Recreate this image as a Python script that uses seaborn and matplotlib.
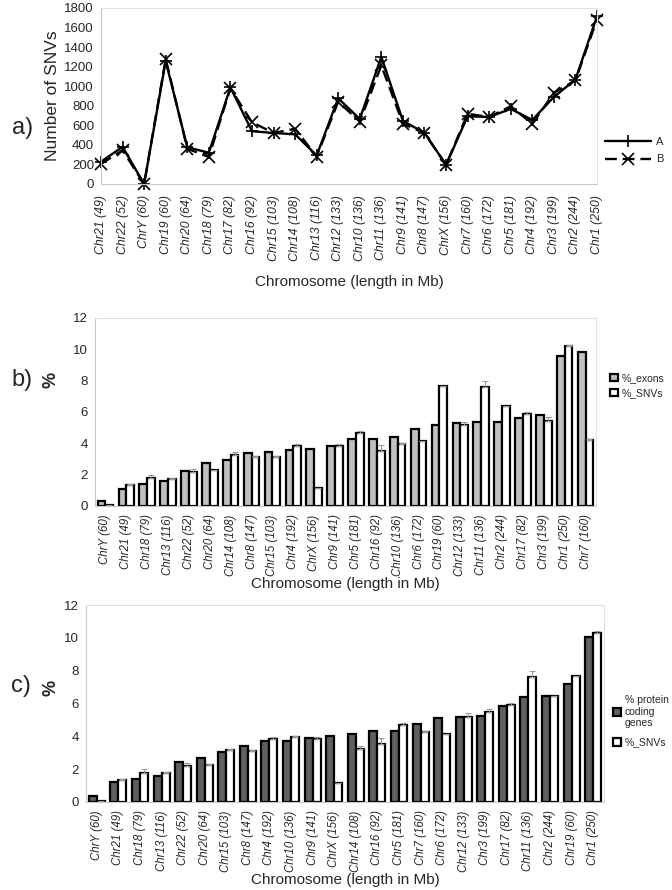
import matplotlib
matplotlib.use("Agg")
import matplotlib.pyplot as plt
import numpy as np
import pandas as pd
import seaborn as sns
from matplotlib.ticker import FixedLocator

# ---- panel a: SNV counts per chromosome (ordered by length) ----
chrom_a = ["Chr21 (49)", "Chr22 (52)", "ChrY (60)", "Chr19 (60)", "Chr20 (64)", "Chr18 (79)",
           "Chr17 (82)", "Chr16 (92)", "Chr15 (103)", "Chr14 (108)", "Chr13 (116)", "Chr12 (133)",
           "Chr10 (136)", "Chr11 (136)", "Chr9 (141)", "Chr8 (147)", "ChrX (156)", "Chr7 (160)",
           "Chr6 (172)", "Chr5 (181)", "Chr4 (192)", "Chr3 (199)", "Chr2 (244)", "Chr1 (250)"]
snv_a = [228, 380, 0, 1258, 376, 320, 988, 540, 522, 508, 292, 876,
         665, 1300, 645, 523, 196, 692, 686, 768, 655, 890, 1068, 1716]
snv_b = [205, 345, 0, 1280, 362, 276, 978, 632, 522, 565, 280, 842,
         638, 1212, 616, 520, 196, 718, 686, 795, 615, 932, 1060, 1682]

# ---- panel b: % exons vs % SNVs ----
chrom_b = ["ChrY (60)", "Chr21 (49)", "Chr18 (79)", "Chr13 (116)", "Chr22 (52)", "Chr20 (64)",
           "Chr14 (108)", "Chr8 (147)", "Chr15 (103)", "Chr4 (192)", "ChrX (156)", "Chr9 (141)",
           "Chr5 (181)", "Chr16 (92)", "Chr10 (136)", "Chr6 (172)", "Chr19 (60)", "Chr12 (133)",
           "Chr11 (136)", "Chr2 (244)", "Chr17 (82)", "Chr3 (199)", "Chr1 (250)", "Chr7 (160)"]
exons_b = [0.29, 1.08, 1.42, 1.62, 2.22, 2.77, 2.93, 3.36, 3.47, 3.56, 3.67, 3.83,
           4.25, 4.29, 4.40, 4.89, 5.20, 5.32, 5.33, 5.35, 5.63, 5.80, 9.55, 9.85]
snvs_b = [0.04, 1.35, 1.77, 1.73, 2.18, 2.27, 3.23, 3.14, 3.14, 3.82, 1.14, 3.83,
          4.67, 3.52, 3.93, 4.13, 7.65, 5.15, 7.58, 6.41, 5.88, 5.44, 10.23, 4.24]
snvs_b_err = [0.0, 0.05, 0.19, 0.07, 0.18, 0.04, 0.20, 0.04, 0.04, 0.16, 0.0, 0.15,
              0.13, 0.37, 0.09, 0.0, 0.0, 0.18, 0.38, 0.0, 0.13, 0.22, 0.07, 0.03]

# ---- panel c: % protein coding genes vs % SNVs ----
chrom_c = ["ChrY (60)", "Chr21 (49)", "Chr18 (79)", "Chr13 (116)", "Chr22 (52)", "Chr20 (64)",
           "Chr15 (103)", "Chr8 (147)", "Chr4 (192)", "Chr10 (136)", "Chr9 (141)", "ChrX (156)",
           "Chr14 (108)", "Chr16 (92)", "Chr5 (181)", "Chr7 (160)", "Chr6 (172)", "Chr12 (133)",
           "Chr3 (199)", "Chr17 (82)", "Chr11 (136)", "Chr2 (244)", "Chr19 (60)", "Chr1 (250)"]
genes_c = [0.38, 1.20, 1.42, 1.58, 2.42, 2.70, 3.05, 3.41, 3.71, 3.71, 3.90, 4.02,
           4.12, 4.30, 4.30, 4.75, 5.12, 5.16, 5.22, 5.83, 6.39, 6.44, 7.17, 10.03]
snvs_c = [0.04, 1.34, 1.78, 1.74, 2.20, 2.28, 3.15, 3.12, 3.82, 3.94, 3.82, 1.18,
          3.23, 3.53, 4.69, 4.24, 4.14, 5.18, 5.48, 5.89, 7.59, 6.44, 7.67, 10.27]
snvs_c_err = [0.0, 0.05, 0.20, 0.10, 0.20, 0.05, 0.05, 0.05, 0.16, 0.08, 0.16, 0.0,
              0.20, 0.39, 0.14, 0.10, 0.0, 0.22, 0.20, 0.16, 0.41, 0.0, 0.0, 0.12]

sns.set_style("white")
plt.rcParams["font.family"] = ["Liberation Sans", "DejaVu Sans"]

W, H = 672, 890
fig = plt.figure(figsize=(W / 100, H / 100), dpi=100)


def px_axes(left, right, top, bottom):
    return fig.add_axes([left / W, 1 - bottom / H, (right - left) / W, (bottom - top) / H])


def style_frame(ax, xsize):
    for side in ["top", "right"]:
        ax.spines[side].set_color("#e0e0e0")
        ax.spines[side].set_linewidth(0.8)
    for side in ["left", "bottom"]:
        ax.spines[side].set_color("#c8c8c8")
        ax.spines[side].set_linewidth(0.8)
    ax.tick_params(axis="y", length=3, color="#c8c8c8", labelsize=9.5, pad=2)
    for lab in ax.get_xticklabels():
        lab.set_rotation(90)
        lab.set_style("italic")
        lab.set_fontsize(xsize)


# ---------------- panel a ----------------
ax_a = px_axes(101, 597, 8, 184)
df_a = pd.DataFrame({
    "chrom": chrom_a * 2,
    "pos": list(range(len(chrom_a))) * 2,
    "snvs": snv_a + snv_b,
    "sample": ["A"] * len(chrom_a) + ["B"] * len(chrom_a),
})
sns.lineplot(data=df_a, x="pos", y="snvs", hue="sample", style="sample",
             palette={"A": "black", "B": "black"},
             dashes={"A": "", "B": (5, 2.5)}, markers={"A": "+", "B": "x"},
             markersize=9, linewidth=1.7, ax=ax_a, clip_on=False)
for ln in ax_a.lines:
    ln.set_markeredgecolor("black")
    ln.set_markeredgewidth(1.2)
ax_a.set_xlim(0, len(chrom_a) - 1)
ax_a.set_ylim(0, 1800)
ax_a.set_yticks(range(0, 1801, 200))
ax_a.set_xticks(range(len(chrom_a)))
ax_a.set_xticklabels(chrom_a)
ax_a.tick_params(axis="x", length=4, color="#c8c8c8", pad=4)
ax_a.set_xlabel("Chromosome (length in Mb)", fontsize=11, labelpad=10)
ax_a.set_ylabel("Number of SNVs", fontsize=12.5, labelpad=3)
style_frame(ax_a, 8.8)
h, l = ax_a.get_legend_handles_labels()
for hd in h:
    hd.set_markeredgecolor("black")
ax_a.legend(h, l, loc="center left", bbox_to_anchor=(1.0, 0.19), frameon=False,
            fontsize=8, handlelength=4.2, handletextpad=0.4, labelspacing=0.7,
            borderaxespad=0.3)
fig.text(12 / W, 1 - 128 / H, "a)", fontsize=17, ha="left", va="center")


# ---------------- bar panels ----------------
def bar_panel(ax, chroms, first, second, err, first_name, first_color):
    df = pd.DataFrame({
        "chrom": chroms * 2,
        "value": first + second,
        "series": [first_name] * len(chroms) + ["%_SNVs"] * len(chroms),
    })
    sns.barplot(data=df, x="chrom", y="value", hue="series", order=chroms,
                hue_order=[first_name, "%_SNVs"],
                palette={first_name: first_color, "%_SNVs": "white"},
                edgecolor="black", linewidth=1.6, width=0.74, errorbar=None, ax=ax)
    bars = ax.containers[1]
    xs = [b.get_x() + b.get_width() / 2 for b in bars]
    hs = [b.get_height() for b in bars]
    ax.errorbar(xs, hs, yerr=[np.zeros(len(err)), err], fmt="none", ecolor="#999999",
                elinewidth=0.8, capsize=2.5, capthick=0.8, zorder=1)
    ax.set_xlim(-0.5, len(chroms) - 0.5)
    ax.set_ylim(0, 12)
    ax.set_yticks(range(0, 13, 2))
    ax.xaxis.set_minor_locator(FixedLocator(np.arange(-0.5, len(chroms), 1.0)))
    ax.tick_params(axis="x", which="major", length=0, pad=6)
    ax.tick_params(axis="x", which="minor", length=4, color="#c8c8c8")
    ax.set_xlabel("Chromosome (length in Mb)", fontsize=11, labelpad=1)
    ax.set_ylabel("%", fontsize=13, fontweight="bold")
    style_frame(ax, 8.3)


ax_b = px_axes(95, 596, 318, 506)
bar_panel(ax_b, chrom_b, exons_b, snvs_b, snvs_b_err, "%_exons", "#c0c0c0")
ax_b.yaxis.set_label_coords((59 - 95) / 501, (506 - 380) / 188)
h, l = ax_b.get_legend_handles_labels()
ax_b.legend(h, l, loc="center left", bbox_to_anchor=(1.01, 0.64), frameon=False,
            fontsize=7.5, handlelength=0.7, handleheight=0.7, handletextpad=0.4,
            labelspacing=0.5)
fig.text(11 / W, 1 - 380 / H, "b)", fontsize=17, ha="left", va="center")

ax_c = px_axes(86, 604, 605, 802)
bar_panel(ax_c, chrom_c, genes_c, snvs_c, snvs_c_err, "% protein\ncoding\ngenes", "#606060")
ax_c.yaxis.set_label_coords((59 - 86) / 518, (802 - 688) / 197)
h, l = ax_c.get_legend_handles_labels()
ax_c.legend(h, l, loc="center left", bbox_to_anchor=(1.0, 0.41), frameon=False,
            fontsize=7.5, handlelength=0.7, handleheight=0.7, handletextpad=0.4,
            labelspacing=0.9)
fig.text(11 / W, 1 - 686 / H, "c)", fontsize=17, ha="left", va="center")

fig.savefig("out.png", dpi=100, facecolor="white")
